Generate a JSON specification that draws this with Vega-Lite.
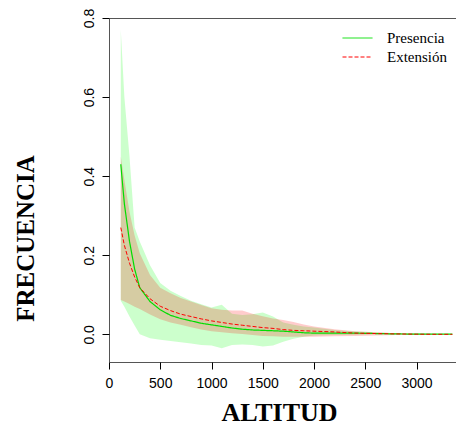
{
  "$schema": "https://vega.github.io/schema/vega-lite/v6.json",
  "width": 348,
  "height": 344,
  "autosize": {"type": "none"},
  "padding": {"left": 109, "top": 18, "right": 0, "bottom": 63},
  "background": "white",
  "config": {
    "view": {"stroke": "#555", "strokeWidth": 1},
    "axis": {
      "grid": false, "domain": false, "ticks": true, "tickColor": "#000", "tickSize": 7,
      "labelFont": "Liberation Sans", "labelFontSize": 14, "labelColor": "#000",
      "labelFlush": false, "labelOverlap": false,
      "titleFont": "Liberation Serif", "titleFontWeight": "bold", "titleColor": "#000"
    }
  },
  "datasets": {
    "d": [
      {"altitud": 115, "serie": "Presencia", "media": 0.43, "inf": 0.085, "sup": 0.77},
      {"altitud": 150, "serie": "Presencia", "media": 0.33, "inf": 0.07, "sup": 0.6},
      {"altitud": 200, "serie": "Presencia", "media": 0.235, "inf": 0.045, "sup": 0.45},
      {"altitud": 250, "serie": "Presencia", "media": 0.165, "inf": 0.022, "sup": 0.27},
      {"altitud": 300, "serie": "Presencia", "media": 0.118, "inf": 0.0, "sup": 0.235},
      {"altitud": 400, "serie": "Presencia", "media": 0.083, "inf": -0.01, "sup": 0.175},
      {"altitud": 500, "serie": "Presencia", "media": 0.062, "inf": -0.014, "sup": 0.13},
      {"altitud": 600, "serie": "Presencia", "media": 0.048, "inf": -0.017, "sup": 0.11},
      {"altitud": 700, "serie": "Presencia", "media": 0.04, "inf": -0.02, "sup": 0.097},
      {"altitud": 800, "serie": "Presencia", "media": 0.034, "inf": -0.023, "sup": 0.085},
      {"altitud": 900, "serie": "Presencia", "media": 0.028, "inf": -0.027, "sup": 0.076},
      {"altitud": 1000, "serie": "Presencia", "media": 0.024, "inf": -0.028, "sup": 0.068},
      {"altitud": 1100, "serie": "Presencia", "media": 0.02, "inf": -0.035, "sup": 0.075},
      {"altitud": 1200, "serie": "Presencia", "media": 0.016, "inf": -0.027, "sup": 0.052},
      {"altitud": 1300, "serie": "Presencia", "media": 0.013, "inf": -0.026, "sup": 0.049},
      {"altitud": 1400, "serie": "Presencia", "media": 0.011, "inf": -0.027, "sup": 0.051},
      {"altitud": 1500, "serie": "Presencia", "media": 0.01, "inf": -0.031, "sup": 0.055},
      {"altitud": 1600, "serie": "Presencia", "media": 0.009, "inf": -0.028, "sup": 0.045},
      {"altitud": 1700, "serie": "Presencia", "media": 0.008, "inf": -0.019, "sup": 0.03},
      {"altitud": 1800, "serie": "Presencia", "media": 0.006, "inf": -0.011, "sup": 0.024},
      {"altitud": 1900, "serie": "Presencia", "media": 0.004, "inf": -0.006, "sup": 0.02},
      {"altitud": 2000, "serie": "Presencia", "media": 0.003, "inf": -0.003, "sup": 0.017},
      {"altitud": 2200, "serie": "Presencia", "media": 0.003, "inf": -0.002, "sup": 0.011},
      {"altitud": 2400, "serie": "Presencia", "media": 0.003, "inf": -0.001, "sup": 0.007},
      {"altitud": 2600, "serie": "Presencia", "media": 0.002, "inf": 0, "sup": 0.005},
      {"altitud": 2800, "serie": "Presencia", "media": 0.001, "inf": 0, "sup": 0.003},
      {"altitud": 3000, "serie": "Presencia", "media": 0.0005, "inf": 0, "sup": 0.002},
      {"altitud": 3200, "serie": "Presencia", "media": 0.0005, "inf": 0, "sup": 0.001},
      {"altitud": 3350, "serie": "Presencia", "media": 0.0005, "inf": 0, "sup": 0.001},
      {"altitud": 115, "serie": "Extensión", "media": 0.27, "inf": 0.087, "sup": 0.45},
      {"altitud": 150, "serie": "Extensión", "media": 0.225, "inf": 0.083, "sup": 0.39},
      {"altitud": 200, "serie": "Extensión", "media": 0.18, "inf": 0.077, "sup": 0.31},
      {"altitud": 250, "serie": "Extensión", "media": 0.145, "inf": 0.07, "sup": 0.25},
      {"altitud": 300, "serie": "Extensión", "media": 0.118, "inf": 0.064, "sup": 0.205},
      {"altitud": 400, "serie": "Extensión", "media": 0.09, "inf": 0.05, "sup": 0.15},
      {"altitud": 500, "serie": "Extensión", "media": 0.071, "inf": 0.038, "sup": 0.118},
      {"altitud": 600, "serie": "Extensión", "media": 0.06, "inf": 0.03, "sup": 0.104},
      {"altitud": 700, "serie": "Extensión", "media": 0.051, "inf": 0.024, "sup": 0.092},
      {"altitud": 800, "serie": "Extensión", "media": 0.045, "inf": 0.018, "sup": 0.083},
      {"altitud": 900, "serie": "Extensión", "media": 0.039, "inf": 0.012, "sup": 0.074},
      {"altitud": 1000, "serie": "Extensión", "media": 0.034, "inf": 0.008, "sup": 0.066},
      {"altitud": 1100, "serie": "Extensión", "media": 0.03, "inf": 0.005, "sup": 0.062},
      {"altitud": 1200, "serie": "Extensión", "media": 0.026, "inf": 0.003, "sup": 0.06},
      {"altitud": 1300, "serie": "Extensión", "media": 0.023, "inf": 0.001, "sup": 0.06},
      {"altitud": 1400, "serie": "Extensión", "media": 0.02, "inf": -0.002, "sup": 0.052},
      {"altitud": 1500, "serie": "Extensión", "media": 0.017, "inf": -0.004, "sup": 0.046},
      {"altitud": 1600, "serie": "Extensión", "media": 0.015, "inf": -0.005, "sup": 0.04},
      {"altitud": 1700, "serie": "Extensión", "media": 0.012, "inf": -0.006, "sup": 0.036},
      {"altitud": 1800, "serie": "Extensión", "media": 0.01, "inf": -0.006, "sup": 0.031},
      {"altitud": 1900, "serie": "Extensión", "media": 0.009, "inf": -0.006, "sup": 0.025},
      {"altitud": 2000, "serie": "Extensión", "media": 0.008, "inf": -0.006, "sup": 0.02},
      {"altitud": 2200, "serie": "Extensión", "media": 0.006, "inf": -0.005, "sup": 0.013},
      {"altitud": 2400, "serie": "Extensión", "media": 0.003, "inf": -0.004, "sup": 0.008},
      {"altitud": 2600, "serie": "Extensión", "media": 0.002, "inf": -0.003, "sup": 0.005},
      {"altitud": 2800, "serie": "Extensión", "media": 0.001, "inf": -0.002, "sup": 0.003},
      {"altitud": 3000, "serie": "Extensión", "media": 0.0003, "inf": -0.001, "sup": 0.002},
      {"altitud": 3200, "serie": "Extensión", "media": 0, "inf": 0, "sup": 0.001},
      {"altitud": 3350, "serie": "Extensión", "media": 0, "inf": 0, "sup": 0.0005}
    ]
  },
  "data": {"name": "d"},
  "encoding": {
    "x": {
      "field": "altitud", "type": "quantitative",
      "scale": {"domain": [0, 3395], "nice": false, "zero": false},
      "axis": {
        "title": "ALTITUD", "values": [0, 500, 1000, 1500, 2000, 2500, 3000], "format": "d",
        "labelPadding": 7, "titleFontSize": 26, "titleX": 170, "titleY": 58,
        "titleAlign": "center", "titleBaseline": "alphabetic"
      }
    }
  },
  "layer": [
    {
      "transform": [{"filter": "datum.serie === 'Presencia'"}],
      "mark": {"type": "area", "color": "#00FF00", "opacity": 0.2},
      "encoding": {
        "y": {
          "field": "inf", "type": "quantitative", "title": "FRECUENCIA",
          "scale": {"domain": [-0.07, 0.8], "nice": false, "zero": false},
          "axis": {
            "values": [0, 0.2, 0.4, 0.6, 0.8], "format": ".1f",
            "labelAngle": 270, "labelAlign": "center", "labelBaseline": "alphabetic", "labelPadding": 9,
            "titleFontSize": 25, "titleAngle": 270, "titleX": -76, "titleY": 220,
            "titleAlign": "center", "titleBaseline": "alphabetic"
          }
        },
        "y2": {"field": "sup"}
      }
    },
    {
      "transform": [{"filter": "datum.serie === 'Extensión'"}],
      "mark": {"type": "area", "color": "#FF0000", "opacity": 0.2},
      "encoding": {
        "y": {"field": "inf", "type": "quantitative", "title": "FRECUENCIA"},
        "y2": {"field": "sup"}
      }
    },
    {
      "transform": [{"filter": "datum.serie === 'Presencia'"}],
      "mark": {"type": "line", "strokeWidth": 1.2},
      "encoding": {
        "y": {"field": "media", "type": "quantitative", "title": "FRECUENCIA"},
        "color": {
          "field": "serie", "type": "nominal",
          "scale": {"domain": ["Presencia", "Extensión"], "range": ["#00DD00", "#FF0000"]},
          "legend": {
            "orient": "none", "legendX": 240.5, "legendY": 12, "title": null, "padding": 0,
            "symbolType": "M-2,0H2", "symbolSize": 225, "symbolStrokeWidth": 1,
            "labelFont": "Liberation Serif", "labelFontSize": 15, "labelColor": "#000",
            "labelOffset": 21.5, "rowPadding": 3
          }
        },
        "strokeDash": {
          "field": "serie", "type": "nominal",
          "scale": {"domain": ["Presencia", "Extensión"], "range": [[1, 0], [4, 2]]},
          "legend": {
            "orient": "none", "legendX": 240.5, "legendY": 12, "title": null, "padding": 0,
            "symbolType": "M-2,0H2", "symbolSize": 225, "symbolStrokeWidth": 1,
            "labelFont": "Liberation Serif", "labelFontSize": 15, "labelColor": "#000",
            "labelOffset": 21.5, "rowPadding": 3
          }
        }
      }
    },
    {
      "transform": [{"filter": "datum.serie === 'Extensión'"}],
      "mark": {"type": "line", "strokeWidth": 1},
      "encoding": {
        "y": {"field": "media", "type": "quantitative", "title": "FRECUENCIA"},
        "color": {"field": "serie", "type": "nominal"},
        "strokeDash": {"field": "serie", "type": "nominal"}
      }
    }
  ]
}
